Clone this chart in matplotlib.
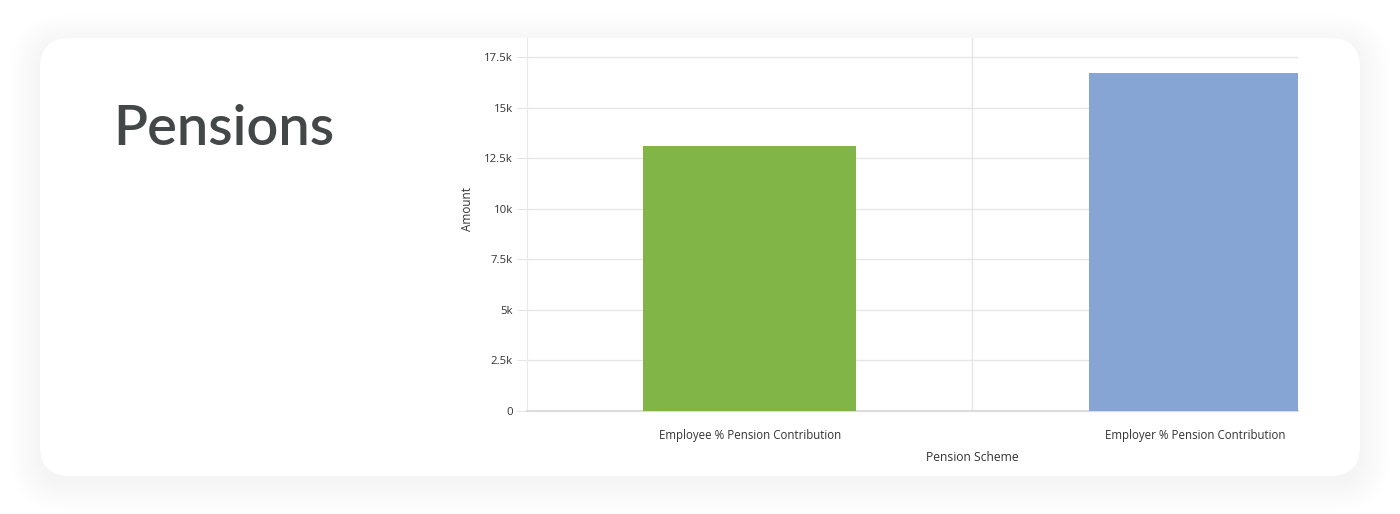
import matplotlib.pyplot as plt
from matplotlib.patches import FancyBboxPatch
from matplotlib.ticker import FuncFormatter

categories = ["Employee % Pension Contribution", "Employer % Pension Contribution"]
amounts = [13100, 16700]
colors = ["#82b548", "#86a5d5"]
y_ticks = [0, 2500, 5000, 7500, 10000, 12500, 15000, 17500]

W, H = 1400, 514
fig = plt.figure(figsize=(W / 100, H / 100), dpi=100)
fig.patch.set_facecolor("white")

# background layer in pixel units for the card + soft shadow
bg = fig.add_axes([0, 0, 1, 1])
bg.set_xlim(0, W)
bg.set_ylim(H, 0)
bg.axis("off")
for g in range(30, 0, -3):
    bg.add_patch(FancyBboxPatch((40 - g, 38 - g + 6), 1320 + 2 * g, 438 + 2 * g,
                                boxstyle="round,pad=0,rounding_size=%d" % (30 + g),
                                fc="black", ec="none", alpha=0.0045))
bg.add_patch(FancyBboxPatch((40, 38), 1320, 438, boxstyle="round,pad=0,rounding_size=30",
                            fc="white", ec="none"))
bg.text(113, 145, "Pensions", fontsize=40.3, family="Lato", weight="semibold",
        color="#434747", va="baseline", ha="left")

# chart
ax = fig.add_axes([527 / W, (H - 411) / H, (1298 - 527) / W, (411 - 38) / H])
ax.set_facecolor("none")
x = list(range(len(categories)))
ax.bar(x, amounts, width=0.478, color=colors, zorder=3)
ax.set_xlim(-0.5, 1.231)
ax.set_ylim(0, 17500 * (411 - 38) / (411 - 57))
ax.set_yticks(y_ticks)
ax.yaxis.set_major_formatter(FuncFormatter(lambda v, p: "0" if v == 0 else ("%gk" % (v / 1000))))
ax.set_xticks(x)
ax.set_xticklabels(categories)
ax.grid(axis="y", color="#e6e6e6", lw=1, zorder=0)
ax.axvline(0.5, color="#e6e6e6", lw=1, zorder=0)
for s in ["top", "right"]:
    ax.spines[s].set_visible(False)
ax.spines["left"].set_color("#e6e9ef")
ax.spines["bottom"].set_color("#dcdcdc")
ax.spines["bottom"].set_linewidth(1.5)
ax.tick_params(axis="y", length=7, color="#e6e6e6", labelsize=8.2, labelcolor="#333333", pad=3)
ax.tick_params(axis="x", length=0, labelsize=8.3, labelcolor="#333333", pad=13)
for t in ax.get_xticklabels() + ax.get_yticklabels():
    t.set_family("Open Sans")
ax.set_ylabel("Amount", fontsize=8.5, family="Open Sans", color="#333333")
ax.yaxis.set_label_coords(-0.069, (411 - 209) / (411 - 38))
ax.set_xlabel("Pension Scheme", fontsize=8.7, family="Open Sans", color="#333333")
ax.xaxis.set_label_coords((972 - 527) / (1298 - 527), -0.107)

fig.savefig("out.png", dpi=100)
